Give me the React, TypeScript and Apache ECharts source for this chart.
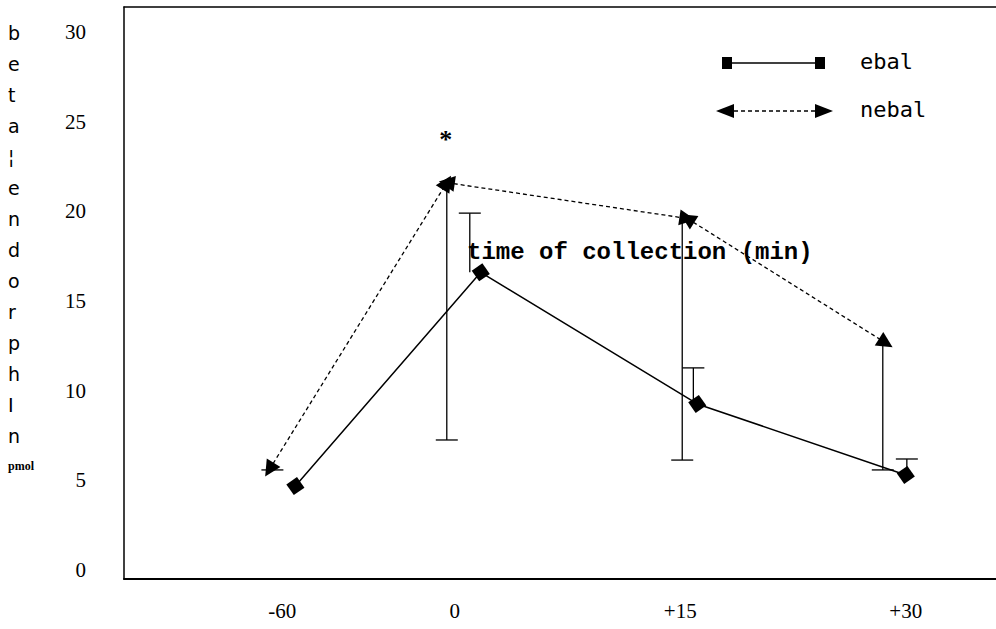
import React, { useEffect, useRef } from "react";
import * as echarts from "echarts";

// ---- data ----
const X_LABELS = ["-60", "0", "+15", "+30"];
const X_LABEL_POS = [-11.47, 0, 15, 30];

const EBA_X = [-10.6, 1.73, 16.13, 30.0];
const EBA_Y = [4.68, 16.6, 9.26, 5.3];
const EBA_ERR_X = [null, 1.0, 15.87, 30.07];
const EBA_ERR_HIGH = [null, 19.9, 11.27, 6.19];

const NEBA_X = [-12.33, -0.53, 15.47, 28.67];
const NEBA_Y = [5.6, 21.6, 19.6, 12.66];
const NEBA_ERR_X = [-12.13, -0.53, 15.13, 28.47];
const NEBA_ERR_LOW = [5.58, 7.25, 6.13, 5.58];

const SIG_MARK = { x: -0.6, y: 24.0, text: "*" };

const Y_TITLE = ["b", "e", "t", "a", "¦", "e", "n", "d", "o", "r", "p", "h", "I", "n"];
const Y_UNIT = "pmol";
const X_TITLE = "time of collection (min)";
const LEGEND_NAMES = ["ebal", "nebal"];

function errorBarItem(params: any, api: any) {
  const x = api.value(0);
  const a = api.value(1);
  const b = api.value(2);
  const p1 = api.coord([x, a]);
  const p2 = api.coord([x, b]);
  const w = 11;
  return {
    type: "group",
    children: [
      { type: "line", shape: { x1: p1[0], y1: p1[1], x2: p2[0], y2: p2[1] }, style: { stroke: "#000", lineWidth: 1.3 } },
      { type: "line", shape: { x1: p2[0] - w, y1: p2[1], x2: p2[0] + w, y2: p2[1] }, style: { stroke: "#000", lineWidth: 1.3 } },
    ],
  };
}

export default function App() {
  const ref = useRef<HTMLDivElement>(null);
  useEffect(() => {
    if (!ref.current) return;
    const chart = echarts.init(ref.current, null, { renderer: "svg" });

    const ebaData = EBA_X.map((x, i) => [x, EBA_Y[i]]);
    const nebaData = NEBA_X.map((x, i) => [x, NEBA_Y[i]]);
    const nebaSegments = [] as any[];
    for (let i = 0; i < nebaData.length - 1; i++) {
      nebaSegments.push([{ coord: nebaData[i] }, { coord: nebaData[i + 1] }]);
    }
    const nebaErr = NEBA_ERR_X.map((x, i) => [x, NEBA_Y[i], NEBA_ERR_LOW[i]]);
    const ebaErr = EBA_ERR_X.map((x, i) => (x == null ? null : [x, EBA_Y[i], EBA_ERR_HIGH[i]])).filter(
      (d) => d != null
    );

    const serif = "'Liberation Serif', 'Times New Roman', serif";
    const mono = "'DejaVu Sans Mono', monospace";
    const frameLine = { show: true, lineStyle: { color: "#000", width: 1.5 } };

    const option: any = {
      animation: false,
      backgroundColor: "#fff",
      grid: [
        { left: 124, right: 0, top: 32, bottom: 59, show: false },
        { left: 124, right: 0, top: 7, bottom: 50, show: false },
      ],
      xAxis: [
        {
          type: "value",
          gridIndex: 0,
          min: -22,
          max: 36,
          axisLine: { show: false },
          axisTick: { show: false },
          splitLine: { show: false },
          axisLabel: {
            customValues: X_LABEL_POS,
            formatter: (v: number) => {
              const i = X_LABEL_POS.findIndex((p) => Math.abs(p - v) < 1e-6);
              return i >= 0 ? X_LABELS[i] : "";
            },
            color: "#000",
            fontFamily: serif,
            fontSize: 21,
            margin: 30,
          },
        },
        {
          type: "value",
          gridIndex: 1,
          min: 0,
          max: 1,
          position: "bottom",
          axisLine: { show: true, onZero: false, lineStyle: { color: "#000", width: 2 } },
          axisTick: { show: false },
          axisLabel: { show: false },
          splitLine: { show: false },
        },
        {
          type: "value",
          gridIndex: 1,
          min: 0,
          max: 1,
          position: "top",
          axisLine: { show: true, onZero: false, lineStyle: { color: "#000", width: 1.5 } },
          axisTick: { show: false },
          axisLabel: { show: false },
          splitLine: { show: false },
        },
      ],
      yAxis: [
        {
          type: "value",
          gridIndex: 0,
          min: 0,
          max: 30,
          interval: 5,
          axisLine: { show: false },
          axisTick: { show: false },
          splitLine: { show: false },
          axisLabel: { color: "#000", fontFamily: serif, fontSize: 21, margin: 38 },
        },
        {
          type: "value",
          gridIndex: 1,
          min: 0,
          max: 1,
          position: "left",
          axisLine: { ...frameLine, onZero: false },
          axisTick: { show: false },
          axisLabel: { show: false },
          splitLine: { show: false },
        },
      ],
      series: [
        {
          name: LEGEND_NAMES[0],
          type: "line",
          xAxisIndex: 0,
          yAxisIndex: 0,
          data: ebaData,
          symbol: "rect",
          symbolSize: 13,
          symbolRotate: 35,
          lineStyle: { color: "#000", width: 1.5 },
          itemStyle: { color: "#000" },
          z: 5,
        },
        {
          name: LEGEND_NAMES[1],
          type: "line",
          xAxisIndex: 0,
          yAxisIndex: 0,
          data: nebaData,
          symbol: "none",
          lineStyle: { width: 0, opacity: 0 },
          itemStyle: { color: "#000" },
          markLine: {
            silent: true,
            symbol: ["triangle", "triangle"],
            symbolSize: 16,
            label: { show: false },
            lineStyle: { color: "#000", type: [4, 3], width: 1.3 },
            data: nebaSegments,
          },
          markPoint: {
            silent: true,
            symbol: "circle",
            symbolSize: 0,
            label: {
              show: true,
              position: "inside",
              formatter: SIG_MARK.text,
              color: "#000",
              fontSize: 26,
              fontWeight: "bold",
              fontFamily: serif,
            },
            data: [{ coord: [SIG_MARK.x, SIG_MARK.y] }],
          },
          z: 4,
        },
        {
          type: "custom",
          xAxisIndex: 0,
          yAxisIndex: 0,
          data: nebaErr,
          encode: { x: 0, y: [1, 2] },
          renderItem: errorBarItem,
          z: 3,
        },
        {
          type: "custom",
          xAxisIndex: 0,
          yAxisIndex: 0,
          data: ebaErr,
          encode: { x: 0, y: [1, 2] },
          renderItem: errorBarItem,
          z: 3,
        },
      ],
      graphic: [
        {
          type: "text",
          left: 8,
          top: 17,
          style: {
            text: Y_TITLE.join("\n"),
            fill: "#000",
            font: "19px 'DejaVu Sans', sans-serif",
            lineHeight: 31,
          },
        },
        {
          type: "text",
          left: 8,
          top: 460,
          style: { text: Y_UNIT, fill: "#000", font: "bold 12px " + serif },
        },
        {
          type: "text",
          left: 467,
          top: 240,
          style: { text: X_TITLE, fill: "#000", font: "bold 24px 'Liberation Mono', monospace" },
        },
        // legend
        { type: "rect", shape: { x: 722, y: 57, width: 10, height: 12 }, style: { fill: "#000" } },
        { type: "rect", shape: { x: 815, y: 57, width: 10, height: 12 }, style: { fill: "#000" } },
        { type: "line", shape: { x1: 732, y1: 63, x2: 815, y2: 63 }, style: { stroke: "#000", lineWidth: 1.5 } },
        {
          type: "text",
          left: 860,
          top: 50,
          style: { text: LEGEND_NAMES[0], fill: "#000", font: "22px " + mono },
        },
        {
          type: "polygon",
          shape: { points: [[716, 111], [734, 104], [734, 118]] },
          style: { fill: "#000" },
        },
        {
          type: "polygon",
          shape: { points: [[833, 111], [815, 104], [815, 118]] },
          style: { fill: "#000" },
        },
        {
          type: "line",
          shape: { x1: 734, y1: 111, x2: 815, y2: 111 },
          style: { stroke: "#000", lineWidth: 1.3, lineDash: [4, 3] },
        },
        {
          type: "text",
          left: 860,
          top: 98,
          style: { text: LEGEND_NAMES[1], fill: "#000", font: "22px " + mono },
        },
      ],
    };
    chart.setOption(option);
    return () => chart.dispose();
  }, []);
  return <div ref={ref} style={{ position: "absolute", left: 0, top: 0, width: 996, height: 629 }} />;
}
